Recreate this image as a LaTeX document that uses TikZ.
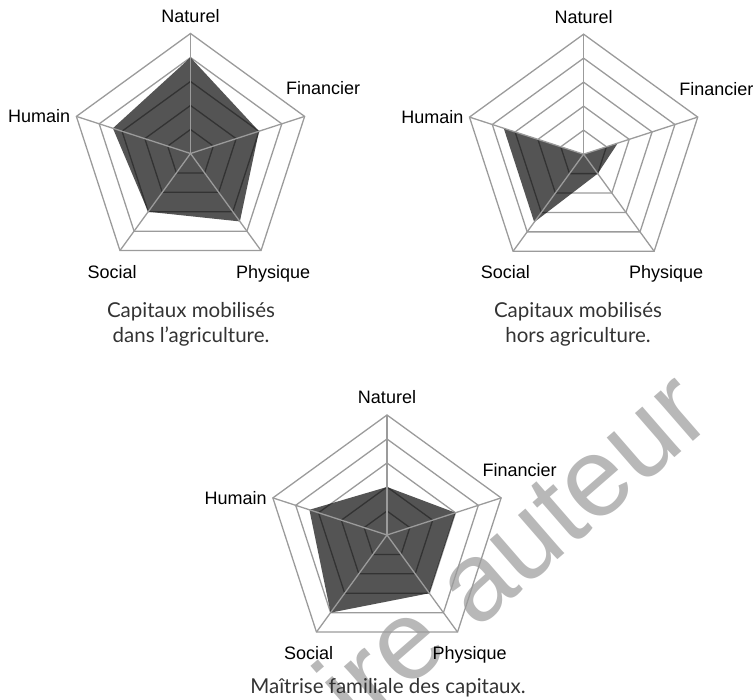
\documentclass[tikz,border=0pt]{standalone}
\usepackage{fontspec}
\setmainfont{Liberation Sans}
\newfontfamily\capfont{Lato}
\usetikzlibrary{calc}
\definecolor{gridgray}{HTML}{9B9B9B}
\definecolor{wmgray}{HTML}{B8B8B8}
\definecolor{captext}{HTML}{333333}
\tikzset{
  gridline/.style={draw=gridgray, line width=1.3pt, line join=miter},
  datafill/.style={fill=black, fill opacity=0.67},
  axislabel/.style={font=\fontsize{18}{20}\selectfont, inner sep=0pt, anchor=base},
  captionline/.style={font=\capfont\fontsize{20.5}{24}\selectfont, text=captext, inner sep=0pt, anchor=base},
  watermark/.style={font=\fontsize{112}{112}\selectfont, text=wmgray, inner sep=0pt, anchor=base east, rotate=41}
}
% #1 prefix, #2 cx, #3 cy, #4 Naturel, #5 Financier, #6 Physique, #7 Social, #8 Humain
\newcommand{\radarchart}[8]{%
  \begin{scope}[shift={(#2,#3)}]
    \coordinate (#1c) at (0,0);
    \foreach \k in {1,...,5}{
      \draw[gridline] (90:{24*\k}) -- (18:{24*\k}) -- (-54:{24*\k}) -- (-126:{24*\k}) -- (162:{24*\k}) -- cycle;
    }
    \fill[datafill] (90:{24*#4}) -- (18:{24*#5}) -- (-54:{24*#6}) -- (-126:{24*#7}) -- (162:{24*#8}) -- cycle;
    \foreach \a/\n in {90/N,18/F,-54/P,-126/S,162/H}{
      \coordinate (#1\n) at (\a:120);
      \draw[gridline] (#1c) -- (#1\n);
    }
    \node[axislabel] (#1lN) at ([yshift=11pt]#1N) {Naturel};
    \node[axislabel] (#1lF) at ([xshift=18.6pt,yshift=21.5pt]#1F) {Financier};
    \node[axislabel] (#1lP) at ([xshift=12pt,yshift=-27.5pt]#1P) {Physique};
    \node[axislabel] (#1lS) at ([xshift=-7.8pt,yshift=-27.5pt]#1S) {Social};
    \node[axislabel, anchor=base east] (#1lH) at ([xshift=-6pt,yshift=-6.5pt]#1H) {Humain};
  \end{scope}}
\begin{document}
\begin{tikzpicture}[x=1pt,y=1pt]
  \useasboundingbox (0,0) rectangle (754,700);
  \begin{scope}
    \clip (0,0) rectangle (754,700);
    \node[watermark] (wm) at (716,278) {Exemplaire auteur};
  \end{scope}
  \radarchart{a}{190.5}{546.5}{4}{3}{3.5}{3}{3.4}
  \radarchart{b}{583.6}{545.8}{0}{1.5}{1}{3.5}{3.5}
  \radarchart{m}{387}{165}{2}{3}{3}{4}{3.4}
  \node[captionline] (capa1) at (191,382) {Capitaux mobilisés};
  \node[captionline] (capa2) at (191,357.5) {dans l’agriculture.};
  \node[captionline] (capb1) at (578,382) {Capitaux mobilisés};
  \node[captionline] (capb2) at (578,357.5) {hors agriculture.};
  \node[captionline] (capm) at (388,6) {Maîtrise familiale des capitaux.};
\end{tikzpicture}
\end{document}
